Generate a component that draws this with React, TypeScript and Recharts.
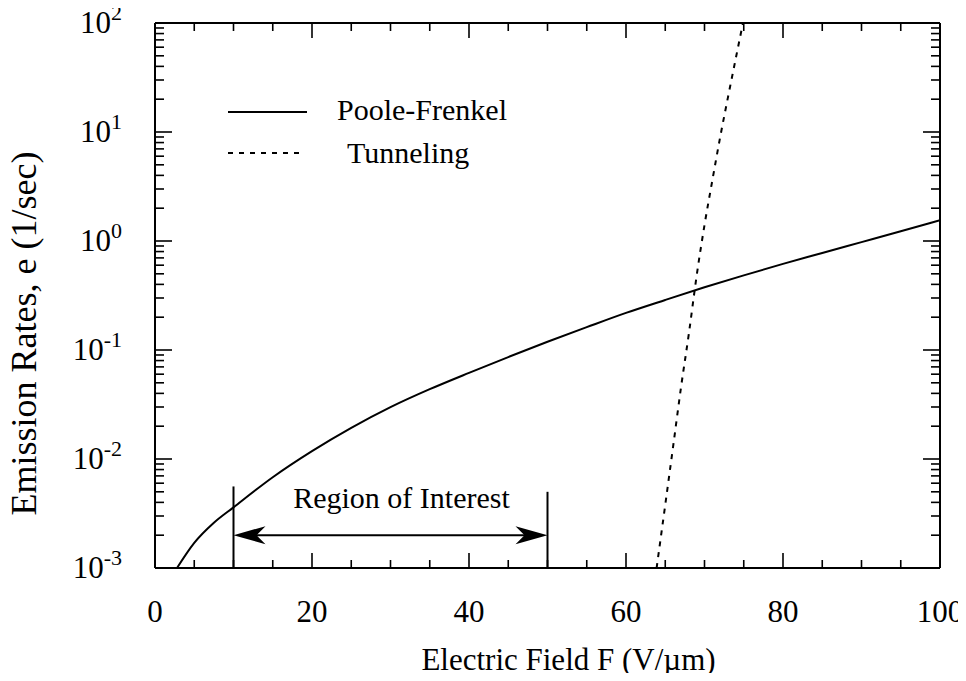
import { LineChart, Line, XAxis, YAxis, ReferenceLine, Legend } from 'recharts';

// Poole-Frenkel emission rate vs field
const pooleField = [2.8, 5, 7.5, 10, 15, 20, 25, 30, 35, 40, 45, 50, 55, 60, 65, 70, 75, 80, 85, 90, 95, 100];
const pooleRate = [0.001, 0.0017, 0.0026, 0.0036, 0.0068, 0.0118, 0.0193, 0.0299, 0.0437, 0.0617, 0.0861, 0.119, 0.162, 0.219, 0.288, 0.376, 0.484, 0.617, 0.776, 0.977, 1.23, 1.55];

// Tunneling emission rate vs field
const tunnelField = [63.9, 65, 66, 67, 68, 69, 70, 71, 72, 73, 74, 74.9];
const tunnelRate = [0.001, 0.0038, 0.013, 0.045, 0.14, 0.48, 1.4, 3.6, 9, 21, 48, 100];

const xTicks = [0, 5, 10, 15, 20, 25, 30, 35, 40, 45, 50, 55, 60, 65, 70, 75, 80, 85, 90, 95, 100];
const xMajor = [0, 20, 40, 60, 80, 100];
const yDecades = [0.001, 0.01, 0.1, 1, 10, 100];
const yExponents = ['-3', '-2', '-1', '0', '1', '2'];
const yMantissas = [1, 2, 3, 4, 5, 6, 7, 8, 9];

// "Region of Interest" annotation
const regionBounds = [10, 50];
const regionTop = [0.0056, 0.005];
const arrowLevel = 0.002;

const yTicks: number[] = [];
yDecades.slice(0, -1).forEach((d) => yMantissas.forEach((m) => yTicks.push(Number((m * d).toPrecision(3)))));
yTicks.push(yDecades[yDecades.length - 1]);

const poole = pooleField.map((f, i) => ({ field: f, rate: pooleRate[i] }));
const tunnel = tunnelField.map((f, i) => ({ field: f, rate: tunnelRate[i] }));

const FONT = '"Liberation Serif", "Times New Roman", serif';
const INK = '#000';

const XTick = (props: any) => {
  const { x, y, payload, top } = props;
  const major = xMajor.includes(payload.value);
  const len = major ? 15 : 8;
  return (
    <g>
      <line x1={x} x2={x} y1={y} y2={top ? y + len : y - len} stroke={INK} strokeWidth={1.6} />
      {!top && major && (
        <text x={x} y={y + 54} textAnchor="middle" fontSize={31} fontFamily={FONT} fill={INK}>
          {payload.value}
        </text>
      )}
    </g>
  );
};

const YTick = (props: any) => {
  const { x, y, payload, right } = props;
  const idx = yDecades.findIndex((d) => Math.abs(d - payload.value) / d < 1e-6);
  const major = idx >= 0;
  const len = major ? 17 : 9;
  return (
    <g>
      <line x1={x} x2={right ? x - len : x + len} y1={y} y2={y} stroke={INK} strokeWidth={1.6} />
      {!right && major && (
        <text x={x - 33} y={y + 10} textAnchor="end" fontSize={31} fontFamily={FONT} fill={INK}>
          <tspan>10</tspan>
          <tspan dy={-13} fontSize={22}>{yExponents[idx]}</tspan>
        </text>
      )}
    </g>
  );
};

const ArrowShape = (props: any) => {
  const { x1, y1, x2 } = props;
  const head = (tip: number, dir: number) =>
    `${tip},${y1} ${tip + dir * 32},${y1 - 9} ${tip + dir * 23},${y1} ${tip + dir * 32},${y1 + 9}`;
  return (
    <g>
      <line x1={x1 + 20} x2={x2 - 20} y1={y1} y2={y1} stroke={INK} strokeWidth={2} />
      <polygon points={head(x1, 1)} fill={INK} />
      <polygon points={head(x2, -1)} fill={INK} />
      <text x={(x1 + x2) / 2 + 11} y={y1 - 27} textAnchor="middle" fontSize={30} fontFamily={FONT} fill={INK}>
        Region of Interest
      </text>
    </g>
  );
};

const LegendBox = () => (
  <svg width={360} height={100}>
    <line x1={0} x2={79} y1={25} y2={25} stroke={INK} strokeWidth={2} />
    <text x={109} y={33} fontSize={30} fontFamily={FONT} fill={INK}>Poole-Frenkel</text>
    <line x1={0} x2={72} y1={66} y2={66} stroke={INK} strokeWidth={2} strokeDasharray="5 6" />
    <text x={119} y={76} fontSize={30} fontFamily={FONT} fill={INK}>Tunneling</text>
  </svg>
);

const XTitle = (props: any) => {
  const { viewBox } = props;
  return (
    <text x={viewBox.x + viewBox.width / 2 + 21} y={viewBox.y + 102} textAnchor="middle" fontSize={31} fontFamily={FONT} fill={INK}>
      Electric Field F (V/µm)
    </text>
  );
};

const YTitle = (props: any) => {
  const { viewBox } = props;
  const cx = viewBox.x + 24;
  const cy = viewBox.y + viewBox.height / 2 + 38;
  return (
    <text x={cx} y={cy} transform={`rotate(-90, ${cx}, ${cy})`} textAnchor="middle" dominantBaseline="central" fontSize={36} fontFamily={FONT} fill={INK}>
      Emission Rates, e (1/sec)
    </text>
  );
};

export default function App() {
  return (
    <div style={{ margin: -8 }}>
      <LineChart width={966} height={681} margin={{ top: 22, right: 25, bottom: 0, left: 0 }}>
        <XAxis
          dataKey="field"
          type="number"
          domain={[0, 100]}
          ticks={xTicks}
          interval={0}
          allowDataOverflow
          height={113}
          tickLine={false}
          tickSize={0}
          tickMargin={0}
          tick={(p: any) => <XTick {...p} />}
          axisLine={{ stroke: INK, strokeWidth: 2 }}
          label={(p: any) => <XTitle {...p} />}
        />
        <XAxis
          xAxisId="top"
          orientation="top"
          dataKey="field"
          type="number"
          domain={[0, 100]}
          ticks={xTicks}
          interval={0}
          allowDataOverflow
          height={1}
          tickLine={false}
          tickSize={0}
          tickMargin={0}
          tick={(p: any) => <XTick {...p} top />}
          axisLine={{ stroke: INK, strokeWidth: 2 }}
        />
        <YAxis
          type="number"
          scale="log"
          domain={[0.001, 100]}
          ticks={yTicks}
          interval={0}
          allowDataOverflow
          width={155}
          tickLine={false}
          tickSize={0}
          tickMargin={0}
          tick={(p: any) => <YTick {...p} />}
          axisLine={{ stroke: INK, strokeWidth: 2 }}
          label={(p: any) => <YTitle {...p} />}
        />
        <YAxis
          yAxisId="right"
          orientation="right"
          type="number"
          scale="log"
          domain={[0.001, 100]}
          ticks={yTicks}
          interval={0}
          allowDataOverflow
          width={1}
          tickLine={false}
          tickSize={0}
          tickMargin={0}
          tick={(p: any) => <YTick {...p} right />}
          axisLine={{ stroke: INK, strokeWidth: 2 }}
        />
        <Legend
          verticalAlign="middle"
          align="center"
          layout="horizontal"
          wrapperStyle={{ left: 228, top: 87, width: 360, height: 100 }}
          content={() => <LegendBox />}
        />
        <Line data={poole} dataKey="rate" name="Poole-Frenkel" type="monotone" stroke={INK} strokeWidth={2} dot={false} isAnimationActive={false} />
        <Line data={tunnel} dataKey="rate" name="Tunneling" type="monotone" stroke={INK} strokeWidth={2} strokeDasharray="5 6" dot={false} isAnimationActive={false} />
        {regionBounds.map((b, i) => (
          <ReferenceLine key={b} segment={[{ x: b, y: 0.001 }, { x: b, y: regionTop[i] }]} stroke={INK} strokeWidth={2} />
        ))}
        <ReferenceLine
          segment={[{ x: regionBounds[0], y: arrowLevel }, { x: regionBounds[1], y: arrowLevel }]}
          shape={(p: any) => <ArrowShape {...p} />}
        />
      </LineChart>
    </div>
  );
}
